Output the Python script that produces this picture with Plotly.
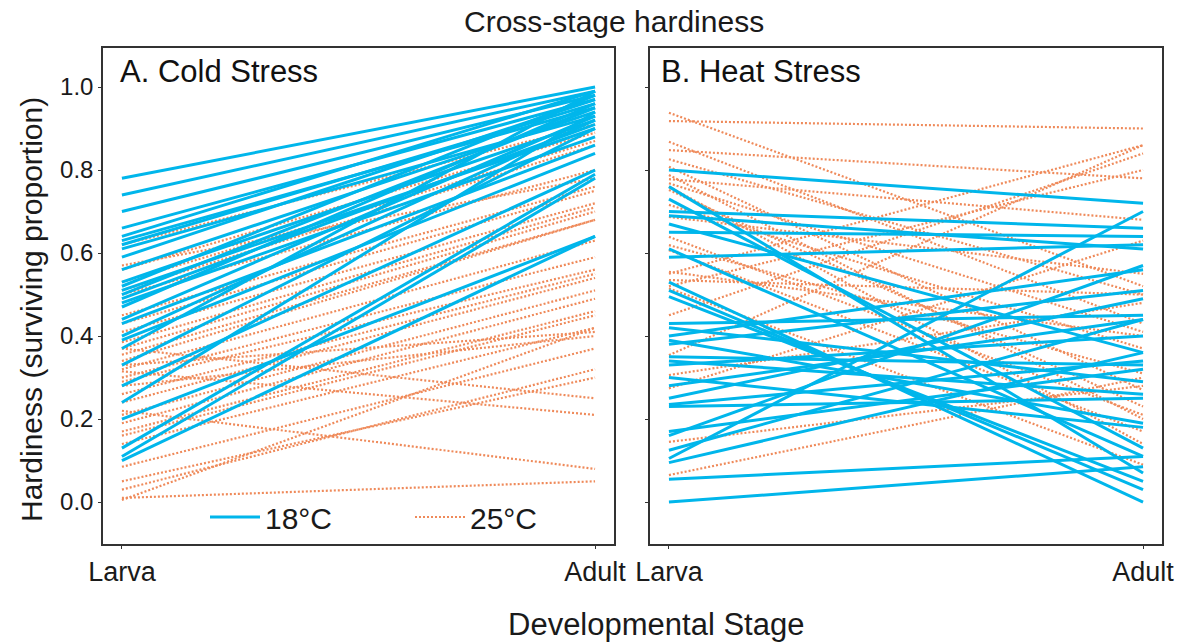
import plotly.graph_objects as go

stages = ["Larva", "Adult"]
series_names = ["18°C", "25°C"]
panel_titles = ["A. Cold Stress", "B. Heat Stress"]

# Panel A: cold stress, 18°C (larva, adult)
cold18_larva = [0.78, 0.74, 0.70, 0.66, 0.64, 0.63, 0.62, 0.61, 0.59, 0.56, 0.53, 0.52, 0.51, 0.50, 0.49,
                0.48, 0.47, 0.44, 0.43, 0.40, 0.39, 0.37, 0.33, 0.28, 0.24, 0.20, 0.13, 0.11, 0.10]
cold18_adult = [1.00, 0.99, 0.98, 0.97, 0.99, 0.95, 0.96, 0.93, 0.97, 0.94, 0.92, 0.98, 0.90, 0.95, 0.91,
                0.88, 0.96, 0.93, 0.86, 0.92, 0.84, 0.99, 0.90, 0.80, 0.94, 0.64, 0.79, 0.78, 0.64]
# Panel A: cold stress, 25°C
cold25_larva = [0.62, 0.56, 0.53, 0.51, 0.50, 0.45, 0.43, 0.41, 0.385, 0.37, 0.355, 0.34, 0.32, 0.30, 0.29,
                0.26, 0.24, 0.21, 0.19, 0.17, 0.16, 0.14, 0.33, 0.28, 0.085, 0.37, 0.315, 0.22, 0.03, 0.01,
                0.005, 0.05, 0.57]
cold25_adult = [0.91, 0.89, 0.87, 0.86, 0.80, 0.76, 0.75, 0.72, 0.71, 0.70, 0.68, 0.68, 0.63, 0.59, 0.56,
                0.55, 0.54, 0.51, 0.49, 0.46, 0.45, 0.42, 0.41, 0.40, 0.37, 0.25, 0.21, 0.08, 0.32, 0.05,
                0.42, 0.30, 0.78]
# Panel B: heat stress, 18°C
heat18_larva = [0.80, 0.76, 0.73, 0.70, 0.69, 0.67, 0.65, 0.61, 0.59, 0.53, 0.51, 0.495, 0.43, 0.42, 0.40,
                0.39, 0.35, 0.34, 0.33, 0.30, 0.25, 0.235, 0.23, 0.17, 0.16, 0.125, 0.105, 0.095, 0.055, 0.00,
                0.38, 0.28]
heat18_adult = [0.72, 0.07, 0.13, 0.66, 0.61, 0.36, 0.64, 0.11, 0.62, 0.00, 0.03, 0.05, 0.45, 0.29, 0.56,
                0.19, 0.33, 0.26, 0.40, 0.18, 0.49, 0.34, 0.25, 0.32, 0.57, 0.44, 0.70, 0.36, 0.11, 0.085,
                0.51, 0.44]
# Panel B: heat stress, 25°C
heat25_larva = [0.938, 0.918, 0.868, 0.848, 0.826, 0.808, 0.788, 0.778, 0.768, 0.76, 0.752, 0.716, 0.687,
                0.639, 0.619, 0.607, 0.555, 0.535, 0.515, 0.45, 0.354, 0.306, 0.274, 0.145, 0.065, 0.55, 0.52]
heat25_adult = [0.52, 0.90, 0.43, 0.78, 0.50, 0.27, 0.20, 0.68, 0.41, 0.14, 0.23, 0.37, 0.55,
                0.21, 0.31, 0.17, 0.40, 0.50, 0.09, 0.84, 0.86, 0.48, 0.63, 0.28, 0.30, 0.86, 0.80]

BLUE = "#00B6EB"
ORANGE = "#EF8A5A"
FONT = "Liberation Sans, Arial, sans-serif"
TXT = "#1a1a1a"

fig = go.Figure()

def add_lines(larva, adult, color, dash, width, name, xa, ya, show):
    for i, (a, b) in enumerate(zip(larva, adult)):
        fig.add_trace(go.Scatter(
            x=[0, 1], y=[a, b], mode="lines",
            line=dict(color=color, width=width, dash=dash),
            name=name, legendgroup=name,
            showlegend=(show and i == 0),
            xaxis=xa, yaxis=ya, hoverinfo="skip"))

add_lines(cold25_larva, cold25_adult, ORANGE, "2px,2px", 2.2, series_names[1], "x", "y", True)
add_lines(cold18_larva, cold18_adult, BLUE, "solid", 3, series_names[0], "x", "y", True)
add_lines(heat25_larva, heat25_adult, ORANGE, "2px,2px", 2.2, series_names[1], "x2", "y2", False)
add_lines(heat18_larva, heat18_adult, BLUE, "solid", 3, series_names[0], "x2", "y2", False)

W, H = 1180, 644
xdomA = [103 / W, 614 / W]
xdomB = [650 / W, 1162 / W]
ydom = [1 - 544 / H, 1 - 48 / H]
yrange = [-0.101, 1.094]
xrange_ = [-0.04, 1.04]

axis_common = dict(showline=True, mirror=True, linecolor="#333333", linewidth=1.5,
                   showgrid=False, zeroline=False, automargin=False)
xtickfont = dict(family=FONT, size=27, color=TXT)
ytickfont = dict(family=FONT, size=24, color=TXT)

fig.update_layout(
    width=W, height=H,
    margin=dict(l=0, r=0, t=0, b=0, autoexpand=False),
    paper_bgcolor="white", plot_bgcolor="white",
    font=dict(family=FONT, color=TXT),
    xaxis=dict(domain=xdomA, range=xrange_, tickvals=[0, 1], ticktext=stages, anchor="y",
               ticks="outside", ticklen=3, tickcolor="#333333", tickfont=xtickfont, **axis_common),
    yaxis=dict(domain=ydom, range=yrange, tickvals=[0, 0.2, 0.4, 0.6, 0.8, 1.0],
               tickformat=".1f", anchor="x", ticks="outside", ticklen=3, tickcolor="#333333",
               tickfont=ytickfont, **axis_common),
    xaxis2=dict(domain=xdomB, range=xrange_, tickvals=[0, 1], ticktext=stages, anchor="y2",
                ticks="outside", ticklen=3, tickcolor="#333333", tickfont=xtickfont, **axis_common),
    yaxis2=dict(domain=ydom, range=yrange, tickvals=[0, 0.2, 0.4, 0.6, 0.8, 1.0],
                showticklabels=False, anchor="x2", ticks="outside", ticklen=3, tickcolor="#333333",
                **axis_common),
    legend=dict(orientation="h", x=205 / W, y=1 - 517 / H, xanchor="left", yanchor="middle",
                bgcolor="rgba(0,0,0,0)", font=dict(family=FONT, size=30, color=TXT),
                entrywidth=140, traceorder="reversed", itemwidth=50),
    showlegend=True,
)

fig.add_annotation(text="Cross-stage hardiness", x=614 / W, y=1 - 21 / H, xref="paper", yref="paper",
                   showarrow=False, xanchor="center", yanchor="middle",
                   font=dict(family=FONT, size=30, color=TXT))
fig.add_annotation(text="Developmental Stage", x=656 / W, y=1 - 624 / H, xref="paper", yref="paper",
                   showarrow=False, xanchor="center", yanchor="middle",
                   font=dict(family=FONT, size=31, color=TXT))
fig.add_annotation(text="Hardiness (surviving proportion)", x=31 / W, y=1 - 310 / H, xref="paper",
                   yref="paper", showarrow=False, textangle=-90, xanchor="center", yanchor="middle",
                   font=dict(family=FONT, size=30, color=TXT))
fig.add_annotation(text=panel_titles[0], x=118 / W, y=1 - 71 / H, xref="paper", yref="paper",
                   showarrow=False, xanchor="left", yanchor="middle",
                   font=dict(family=FONT, size=31, color="#111111"))
fig.add_annotation(text=panel_titles[1], x=659 / W, y=1 - 71 / H, xref="paper", yref="paper",
                   showarrow=False, xanchor="left", yanchor="middle",
                   font=dict(family=FONT, size=31, color="#111111"))

fig.write_html("out.html")
